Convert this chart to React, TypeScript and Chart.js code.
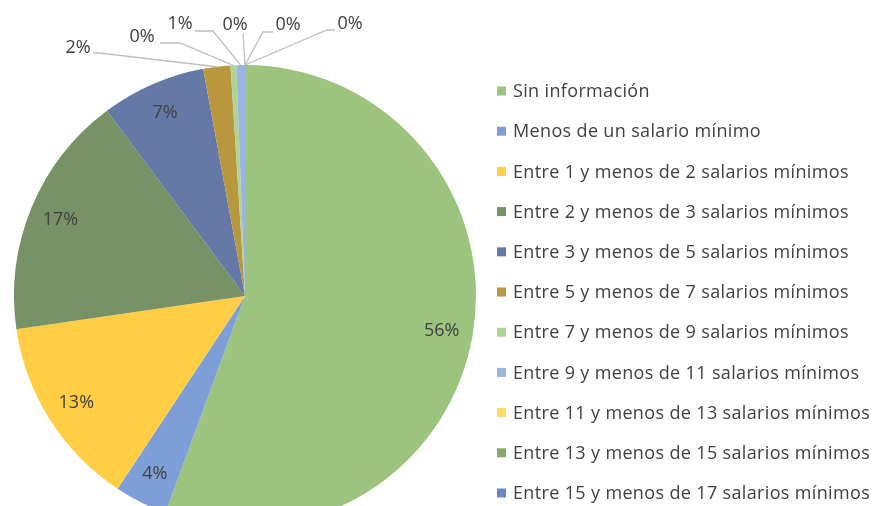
import React, { useEffect, useRef } from "react";
import { Chart, registerables } from "chart.js";

Chart.register(...registerables);

const categories = [
  "Sin información",
  "Menos de un salario mínimo",
  "Entre 1 y menos de 2 salarios mínimos",
  "Entre 2 y menos de 3 salarios mínimos",
  "Entre 3 y menos de 5 salarios mínimos",
  "Entre 5 y menos de 7 salarios mínimos",
  "Entre 7 y menos de 9 salarios mínimos",
  "Entre 9 y menos de 11 salarios mínimos",
  "Entre 11 y menos de 13 salarios mínimos",
  "Entre 13 y menos de 15 salarios mínimos",
  "Entre 15 y menos de 17 salarios mínimos",
];

const shares = [55.6, 3.7, 13.4, 17.1, 7.3, 1.9, 0.4, 0.6, 0, 0, 0];

const colors = [
  "#9CC47F",
  "#7E9ED8",
  "#FFCE44",
  "#789267",
  "#6479A5",
  "#B8973F",
  "#AED495",
  "#9AB4E2",
  "#FFD966",
  "#87A96F",
  "#6A85C0",
];

// callout placements for small slices, relative to the top of the pie
const callouts: Record<number, { tx: number; ty: number; sx: number; sy: number; ex: number; ey: number }> = {
  5: { tx: -167, ty: -17, sx: -152, sy: -12, ex: -146, ey: -12 },
  6: { tx: -103, ty: -28, sx: -85, sy: -22, ex: -65, ey: -22 },
  7: { tx: -65, ty: -41, sx: -50, sy: -34, ex: -32, ey: -34 },
  8: { tx: -10, ty: -40, sx: -2, sy: -32, ex: -2, ey: -32 },
  9: { tx: 43, ty: -40, sx: 28, sy: -33, ex: 18, ey: -33 },
  10: { tx: 105, ty: -41, sx: 90, sy: -35, ex: 82, ey: -35 },
};

const FONT = '18px "Open Sans"';
const TEXT = "#404040";

const labelsPlugin = {
  id: "pieLabels",
  afterDatasetsDraw(chart: any) {
    const ctx = chart.ctx;
    const meta = chart.getDatasetMeta(0);
    const total = shares.reduce((a, b) => a + b, 0);
    ctx.save();
    ctx.font = FONT;
    ctx.fillStyle = TEXT;
    ctx.textAlign = "center";
    ctx.textBaseline = "middle";
    meta.data.forEach((arc: any, i: number) => {
      const p = arc.getProps(["x", "y", "startAngle", "endAngle", "outerRadius"], true);
      const mid = (p.startAngle + p.endAngle) / 2;
      const pct = Math.round((shares[i] / total) * 100) + "%";
      const c = callouts[i];
      if (!c) {
        const rr = p.outerRadius * 0.865;
        ctx.fillStyle = TEXT;
        ctx.fillText(pct, p.x + Math.cos(mid) * rr, p.y + Math.sin(mid) * rr);
      } else {
        const ax = p.x + Math.cos(mid) * p.outerRadius;
        const ay = p.y + Math.sin(mid) * p.outerRadius;
        const tx0 = p.x;
        const ty0 = p.y - p.outerRadius;
        ctx.strokeStyle = "#BFBFBF";
        ctx.lineWidth = 1.3;
        ctx.beginPath();
        ctx.moveTo(tx0 + c.sx, ty0 + c.sy);
        ctx.lineTo(tx0 + c.ex, ty0 + c.ey);
        ctx.lineTo(ax, ay);
        ctx.stroke();
        ctx.fillStyle = TEXT;
        ctx.fillText(pct, tx0 + c.tx, ty0 + c.ty);
      }
    });
    ctx.restore();
  },
  afterDraw(chart: any) {
    const ctx = chart.ctx;
    ctx.save();
    ctx.font = FONT;
    ctx.textAlign = "left";
    ctx.textBaseline = "middle";
    try {
      (ctx as any).letterSpacing = "0.35px";
    } catch (e) {}
    const x0 = 497;
    const y0 = 91;
    const step = 40.2;
    categories.forEach((name, i) => {
      const y = y0 + i * step;
      ctx.fillStyle = colors[i];
      ctx.fillRect(x0, y - 4.5, 9, 9);
      ctx.fillStyle = TEXT;
      ctx.fillText(name, 513, y + 1);
    });
    ctx.restore();
  },
};

export default function App() {
  const ref = useRef<HTMLCanvasElement | null>(null);
  useEffect(() => {
    if (!ref.current) return;
    const chart = new Chart(ref.current, {
      type: "pie",
      data: {
        labels: categories,
        datasets: [
          {
            data: shares,
            backgroundColor: colors,
            borderWidth: 0,
            hoverOffset: 0,
          },
        ],
      },
      options: {
        responsive: false,
        animation: false,
        radius: 231,
        layout: { padding: { left: 14, top: 65, right: 399, bottom: 13 } },
        plugins: {
          legend: { display: false },
          tooltip: { enabled: false },
        },
        events: [],
      } as any,
      plugins: [labelsPlugin],
    });
    return () => chart.destroy();
  }, []);
  return (
    <div
      style={{
        position: "fixed",
        left: 0,
        top: 0,
        width: 875,
        height: 506,
        overflow: "hidden",
        background: "#fff",
      }}
    >
      <canvas ref={ref} width={875} height={540} style={{ width: 875, height: 540, display: "block" }} />
    </div>
  );
}
